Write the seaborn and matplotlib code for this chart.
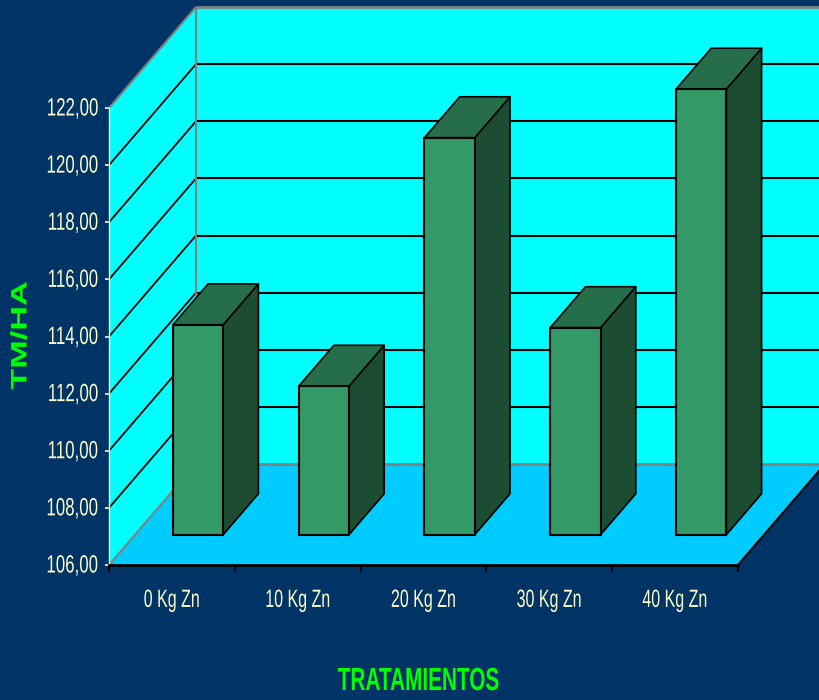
import numpy as np
import pandas as pd
import matplotlib
matplotlib.use("Agg")
import matplotlib.pyplot as plt
from matplotlib.patches import Polygon
from matplotlib.patheffects import AbstractPathEffect
from matplotlib.transforms import Affine2D, IdentityTransform
import seaborn as sns

tratamientos = ["0 Kg Zn", "10 Kg Zn", "20 Kg Zn", "30 Kg Zn", "40 Kg Zn"]
tm_ha = [113.35, 111.2, 119.9, 113.25, 121.6]
y_ticks = [106, 108, 110, 112, 114, 116, 118, 120, 122]

BG = "#003366"
WALL = "#00FFFF"
FLOOR = "#00CCFF"
BAR = "#339966"
BAR_SIDE = "#1C4D33"
BAR_TOP = "#266E4A"
LABEL = "#FFFFCC"
GREEN = "#00FF00"
GREY = "#808080"
FONT = "Liberation Sans"

# pixels of full chart depth, and where the bars sit inside it
DEPTH = np.array([87, 101])
BAR_FRONT = 0.3
BAR_BACK = 0.705


# no narrow font installed, so squeeze the text outlines instead
class Squeeze(AbstractPathEffect):
    def __init__(self, sx=1.0, sy=1.0, anchor="center"):
        super().__init__()
        self.sx, self.sy, self.anchor = sx, sy, anchor

    def draw_path(self, renderer, gc, tpath, affine, rgbFace=None):
        e = tpath.get_extents()
        cx = e.x1 if self.anchor == "right" else (e.x0 + e.x1) / 2
        a = Affine2D().translate(-cx, 0).scale(self.sx, self.sy).translate(cx, 0) + affine
        renderer.draw_path(gc, tpath, a, rgbFace)


sns.set_style("white")
W, H = 819, 700
fig = plt.figure(figsize=(W / 100, H / 100), dpi=100, facecolor=BG)
ax = fig.add_axes([109 / W, 1 - 565 / H, 629 / W, 457 / H])
ax.patch.set_visible(False)

df = pd.DataFrame({"tratamiento": tratamientos, "altura": np.array(tm_ha) - y_ticks[0]})
# front face of the bars, shifted back into the box
front = Affine2D().translate(*(DEPTH * BAR_FRONT))
sns.barplot(data=df, x="tratamiento", y="altura", bottom=y_ticks[0], width=0.4, color=BAR,
            saturation=1, edgecolor="black", linewidth=1.5, ax=ax,
            transform=ax.transData + front, clip_on=False, zorder=5)
bars = list(ax.patches)
ax.set_xlim(-0.5, len(tratamientos) - 0.5)
ax.set_ylim(y_ticks[0], y_ticks[-1])


def proj(x, y, d):
    return ax.transData.transform((x, y)) + DEPTH * d


def face(points, **kws):
    p = Polygon(points, closed=True, transform=IdentityTransform(), clip_on=False, **kws)
    ax.add_patch(p)


def line(a, b, color="black", lw=1.5, z=2):
    ax.plot([a[0], b[0]], [a[1], b[1]], color=color, lw=lw, transform=IdentityTransform(),
            clip_on=False, zorder=z, solid_capstyle="butt")


x0, x1 = ax.get_xlim()
ymin, ymax = ax.get_ylim()

# walls and floor
face([proj(x0, ymin, 1), proj(x1, ymin, 1), proj(x1, ymax, 1), proj(x0, ymax, 1)], fc=WALL, ec="none", zorder=1)
face([proj(x0, ymin, 0), proj(x0, ymin, 1), proj(x0, ymax, 1), proj(x0, ymax, 0)], fc=WALL, ec="none", zorder=1)
face([proj(x0, ymin, 0), proj(x1, ymin, 0), proj(x1, ymin, 1), proj(x0, ymin, 1)], fc=FLOOR, ec="none", zorder=1)

for t in y_ticks[1:-1]:
    line(proj(x0, t, 1), proj(x1, t, 1))
    line(proj(x0, t, 0), proj(x0, t, 1), lw=1.3)

# grey frame of the box
line(proj(x0, ymin, 1), proj(x1, ymin, 1), GREY, 2.0, 3)
line(proj(x0, ymax, 1), proj(x1, ymax, 1), GREY, 2.0, 3)
line(proj(x0, ymin, 1), proj(x0, ymax, 1), GREY, 1.5, 3)
line(proj(x0, ymax, 0), proj(x0, ymax, 1), GREY, 1.5, 3)
line(proj(x0, ymin, 0), proj(x0, ymin, 1), GREY, 1.5, 3)
line(proj(x1, ymin, 0), proj(x1, ymin, 1), "black", 1.5, 3)

# side and top of each bar, taken from the bars seaborn drew
for bar in bars:
    bx0, bx1 = bar.get_x(), bar.get_x() + bar.get_width()
    by0 = bar.get_y()
    by1 = by0 + bar.get_height()
    face([proj(bx1, by0, BAR_FRONT), proj(bx1, by0, BAR_BACK), proj(bx1, by1, BAR_BACK), proj(bx1, by1, BAR_FRONT)],
         fc=BAR_SIDE, ec="black", lw=1.2, zorder=4, joinstyle="round")
    face([proj(bx0, by1, BAR_FRONT), proj(bx1, by1, BAR_FRONT), proj(bx1, by1, BAR_BACK), proj(bx0, by1, BAR_BACK)],
         fc=BAR_TOP, ec="black", lw=1.2, zorder=4, joinstyle="round")

for s in ["top", "right"]:
    ax.spines[s].set_visible(False)
ax.spines["left"].set_color(LABEL)
ax.spines["left"].set_linewidth(1.0)
ax.spines["bottom"].set_color("black")
ax.spines["bottom"].set_linewidth(2.0)
for s in ax.spines.values():
    s.set_zorder(6)

ax.set_yticks(y_ticks)
ax.set_yticklabels([f"{t:.2f}".replace(".", ",") for t in y_ticks], family=FONT, fontsize=15, color=LABEL)
ax.tick_params(axis="y", direction="out", length=3, width=1.2, color=LABEL, pad=4.5, left=True)
for lab in ax.get_yticklabels():
    lab.set_path_effects([Squeeze(0.81, 1.2, anchor="right")])

# ticks between categories, labels under the bars
ax.set_xticks(np.arange(len(tratamientos) + 1) - 0.5)
ax.set_xticklabels([])
ax.set_xticks(np.arange(len(tratamientos)), labels=tratamientos, minor=True)
ax.tick_params(axis="x", which="major", direction="out", length=5, width=1.4, color="black", bottom=True)
ax.tick_params(axis="x", which="minor", length=0, pad=16.5, labelsize=18, labelcolor=LABEL)
for lab in ax.get_xticklabels(minor=True):
    lab.set_family(FONT)
    lab.set_path_effects([Squeeze(0.64)])

ax.set_xlabel("")
ax.set_ylabel("")
t1 = fig.text(20 / W, 1 - 335.5 / H, "TM/HA", rotation=90, ha="center", va="center",
              color=GREEN, family=FONT, weight="bold", fontsize=17)
t1.set_path_effects([Squeeze(1.45, 0.95)])
t2 = fig.text(419 / W, 1 - 682 / H, "TRATAMIENTOS", ha="center", va="center",
              color=GREEN, family=FONT, weight="bold", fontsize=23)
t2.set_path_effects([Squeeze(0.65)])

fig.savefig("out.png", dpi=100, facecolor=BG)
